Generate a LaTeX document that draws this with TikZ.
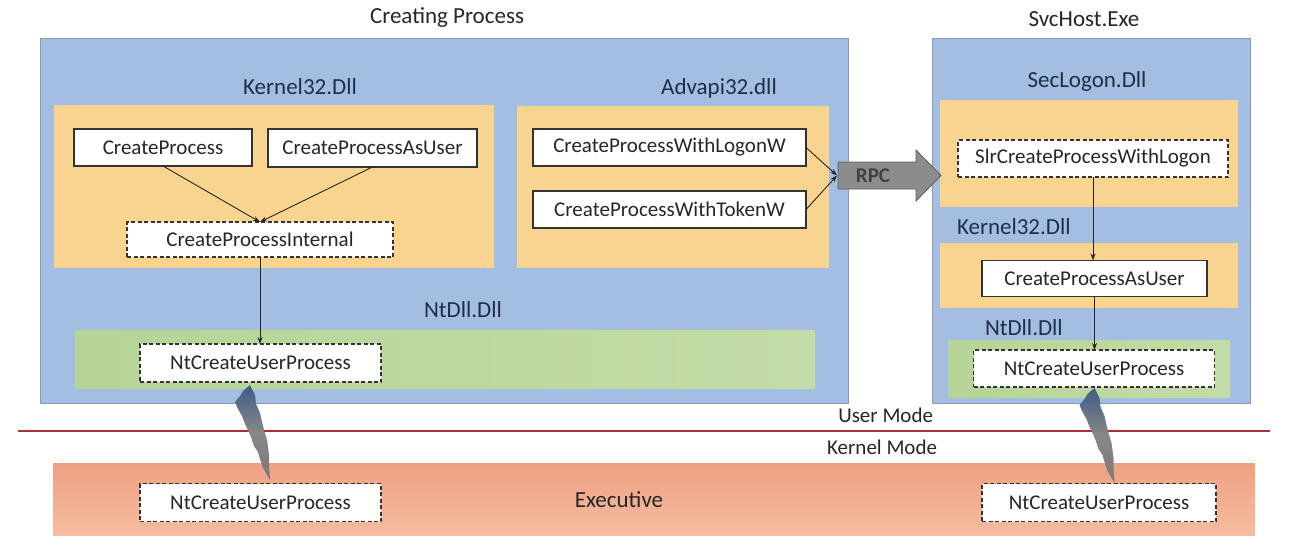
\documentclass[tikz,border=0pt]{standalone}
\usepackage{fontspec}
\setmainfont{Carlito}
\usetikzlibrary{arrows.meta,calc}
\definecolor{procblue}{HTML}{A4BEE2}
\definecolor{procedge}{HTML}{8A9AB2}
\definecolor{dllorange}{HTML}{F9D48E}
\definecolor{ntgreen}{HTML}{B6D497}
\definecolor{ntgreenlt}{HTML}{C3DCA6}
\definecolor{execsalmon}{HTML}{EFA183}
\definecolor{execsalmonlt}{HTML}{F6BCA0}
\definecolor{txtdark}{HTML}{262626}
\definecolor{txtnavy}{HTML}{1F2D4A}
\definecolor{modered}{HTML}{A83232}
\definecolor{rpcgray}{HTML}{8C8C8C}
\definecolor{rpcedge}{HTML}{5E5E5E}
\definecolor{boltblue}{HTML}{3F5C85}
\definecolor{boltgray}{HTML}{7A7A7A}
\begin{document}
\begin{tikzpicture}[x=1pt,y=-1pt,
  every node/.style={inner sep=0pt, outer sep=0pt},
  area/.style={rectangle, draw=none},
  procbox/.style={area, fill=procblue, draw=procedge, line width=0.6pt},
  dllbox/.style={area, fill=dllorange},
  ntbox/.style={area, left color=ntgreen, right color=ntgreenlt},
  execbox/.style={area, top color=execsalmon, bottom color=execsalmonlt},
  title/.style={text=txtdark, font=\fontsize{23}{27}\selectfont},
  dlllabel/.style={text=txtnavy, font=\fontsize{23}{27}\selectfont},
  modelabel/.style={text=txtdark, font=\fontsize{21}{25}\selectfont},
  fnbox/.style={rectangle, fill=white, draw=black!80, line width=1.2pt,
    text=txtdark, font=\fontsize{21}{25}\selectfont},
  fndash/.style={fnbox, dash pattern=on 4pt off 2.5pt},
  conn/.style={draw=black!85, line width=0.9pt, -{Stealth[length=7pt,width=5pt]}},
  lightning/.pic={
    \shade[top color=boltblue, bottom color=boltgray, middle color=boltgray!90, draw=none]
      (0,0) -- (5,10) -- (6,19) -- (10,28) -- (12,37) -- (14,45) -- (17,55) -- (18,62)
      -- (19,70) -- (19,80) -- (20,95) -- (13,83) -- (10,74) -- (8,67) -- (4,61)
      -- (1,52) -- (-2,45) -- (-5,39) -- (-8,31) -- (-12,24) -- (-15,17) -- (-10,11)
      -- (-7,6) -- cycle;
  }
]
\useasboundingbox (0,0) rectangle (1304,558);

% ---- containers ----
\node[procbox, minimum width=808pt, minimum height=365pt] (creating) at (444,220.5) {};
\node[procbox, minimum width=318pt, minimum height=365pt] (svchost) at (1091,220.5) {};
\node[title] (creatingT) at (447,18) {Creating Process};
\node[title] (svchostT) at (1084,19) {SvcHost.Exe};

% left: kernel32 & advapi32
\node[dllbox, minimum width=440pt, minimum height=163pt] (k32) at (273.5,186.5) {};
\node[dlllabel] (k32T) at (300,87) {Kernel32.Dll};
\node[dllbox, minimum width=312pt, minimum height=162pt] (adv) at (673,187) {};
\node[dlllabel] (advT) at (719,88) {Advapi32.dll};

% left ntdll
\node[ntbox, minimum width=740pt, minimum height=58pt] (ntl) at (445,359) {};
\node[dlllabel] (ntlT) at (463,310) {NtDll.Dll};

% right: seclogon, kernel32, ntdll
\node[dllbox, minimum width=298pt, minimum height=107pt] (sec) at (1089,153.5) {};
\node[dlllabel] (secT) at (1087,81) {SecLogon.Dll};
\node[dllbox, minimum width=298pt, minimum height=65pt] (k32r) at (1089,275.5) {};
\node[dlllabel, anchor=west] (k32rT) at (957,227) {Kernel32.Dll};
\node[ntbox, minimum width=282pt, minimum height=57pt] (ntr) at (1089,368.5) {};
\node[dlllabel, anchor=west] (ntrT) at (985,328) {NtDll.Dll};

% executive
\node[execbox, minimum width=1202pt, minimum height=72pt] (exec) at (654,499) {};
\node[title] (execT) at (619,500) {Executive};

% mode separator
\coordinate (modeL) at (18,431);
\coordinate (modeR) at (1270,431);
\draw[modered, line width=1.3pt] (modeL) -- (modeR);
\node[modelabel, anchor=east] (userM) at (933,415) {User Mode};
\node[modelabel, anchor=east] (kernM) at (937,447) {Kernel Mode};

% ---- function boxes ----
\node[fnbox, minimum width=178pt, minimum height=37pt] (cp) at (163,147.5) {CreateProcess};
\node[fnbox, minimum width=209pt, minimum height=38pt] (cpau) at (372.5,148) {CreateProcessAsUser};
\node[fndash, minimum width=266pt, minimum height=35pt] (cpi) at (260,239.5) {CreateProcessInternal};
\node[fndash, minimum width=241pt, minimum height=38pt] (ntA) at (260.5,363) {NtCreateUserProcess};
\node[fnbox, minimum width=273pt, minimum height=37pt] (logon) at (669.5,147.5) {CreateProcessWithLogonW};
\node[fnbox, minimum width=273pt, minimum height=37pt] (token) at (669.5,209.5) {CreateProcessWithTokenW};

\node[fndash, minimum width=270pt, minimum height=37pt] (slr) at (1093,158.5) {SlrCreateProcessWithLogon};
\node[fnbox, minimum width=225pt, minimum height=36pt] (cpaur) at (1094.5,278.5) {CreateProcessAsUser};
\node[fndash, minimum width=241pt, minimum height=37pt] (ntB) at (1094,368.5) {NtCreateUserProcess};

\node[fndash, minimum width=241pt, minimum height=38pt] (ntKA) at (260.5,502.5) {NtCreateUserProcess};
\node[fndash, minimum width=234pt, minimum height=38pt] (ntKB) at (1099,502.5) {NtCreateUserProcess};

% ---- RPC block arrow ----
\fill[rpcgray, draw=rpcedge, line width=0.8pt]
  (838,162) -- (916,162) -- (916,150) -- (941,175.5) -- (916,201) -- (916,189) -- (838,189) -- cycle;
\node[text=black!75, font=\fontsize{21}{25}\selectfont\bfseries] (rpc) at (873,175.5) {RPC};
\coordinate (rpcin) at (837,175.5);

% ---- connectors ----
\draw[conn] (cp.south) -- (cpi.north);
\draw[conn] (cpau.south) -- (cpi.north);
\draw[conn] (cpi.south) -- (cpi.south |- ntA.north);
\draw[conn] (logon.east) -- (rpcin);
\draw[conn] (token.east) -- (rpcin);
\draw[conn] (slr.south) -- (slr.south |- cpaur.north);
\draw[conn] (cpaur.south) -- (cpaur.south |- ntB.north);

% ---- lightning (syscall) ----
\pic at ([xshift=-10.5pt, yshift=-3pt]ntA.south) {lightning};
\pic at ([xshift=0.5pt, yshift=-1pt]ntB.south) {lightning};
\end{tikzpicture}
\end{document}
